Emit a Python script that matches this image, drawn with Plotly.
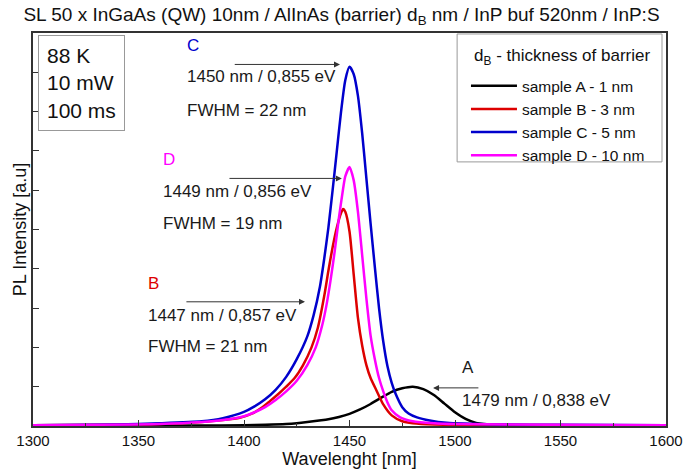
import plotly.graph_objects as go

# ---- data ----
wl_A = [1300, 1380, 1400, 1410, 1420, 1425, 1430, 1440, 1445, 1450, 1455, 1460, 1465, 1470,
        1475, 1480, 1485, 1490, 1495, 1500, 1505, 1510, 1520, 1540, 1600]
int_A = [0.0, 0.01, 0.02, 0.03, 0.05, 0.07, 0.10, 0.17, 0.23, 0.31, 0.42, 0.56, 0.72, 0.87,
         0.96, 1.00, 0.94, 0.79, 0.57, 0.35, 0.18, 0.08, 0.03, 0.01, 0.0]

wl_B = [1300, 1360, 1380, 1390, 1398, 1404, 1408, 1412, 1416, 1420, 1424, 1428, 1432, 1435,
        1438, 1440, 1442, 1444, 1446, 1447, 1448, 1450, 1452, 1454, 1456, 1458, 1460, 1463,
        1466, 1470, 1475, 1480, 1490, 1600]
int_B = [0.02, 0.05, 0.10, 0.15, 0.21, 0.32, 0.45, 0.62, 0.80, 1.00, 1.22, 1.55, 2.00, 2.50,
         3.30, 3.95, 4.55, 5.05, 5.42, 5.52, 5.45, 4.95, 3.85, 2.75, 2.05, 1.55, 1.22, 0.88,
         0.55, 0.27, 0.12, 0.07, 0.04, 0.02]

wl_C = [1300, 1340, 1360, 1380, 1390, 1400, 1405, 1410, 1415, 1420, 1425, 1430, 1433, 1436,
        1438, 1440, 1442, 1444, 1446, 1448, 1450, 1452, 1454, 1456, 1458, 1460, 1462, 1464,
        1466, 1468, 1470, 1472, 1475, 1478, 1482, 1488, 1496, 1520, 1550, 1600]
int_C = [0.02, 0.04, 0.07, 0.12, 0.20, 0.36, 0.50, 0.68, 0.92, 1.25, 1.70, 2.28, 2.82, 3.55,
         4.25, 5.05, 6.00, 7.00, 8.00, 8.80, 9.14, 8.95, 8.40, 7.45, 6.30, 5.15, 4.05, 3.00,
         2.15, 1.52, 1.10, 0.80, 0.48, 0.32, 0.22, 0.14, 0.08, 0.04, 0.03, 0.02]

wl_D = [1300, 1360, 1380, 1390, 1400, 1405, 1410, 1415, 1420, 1425, 1430, 1434, 1437, 1439,
        1441, 1443, 1445, 1447, 1448, 1450, 1452, 1454, 1456, 1458, 1460, 1462, 1464, 1466,
        1468, 1470, 1474, 1480, 1490, 1500, 1550, 1600]
int_D = [0.02, 0.05, 0.10, 0.15, 0.25, 0.35, 0.48, 0.66, 0.88, 1.15, 1.55, 2.00, 2.55, 3.05,
         3.70, 4.45, 5.30, 6.05, 6.35, 6.59, 6.25, 5.45, 4.35, 3.25, 2.30, 1.70, 1.22, 0.88,
         0.60, 0.40, 0.22, 0.12, 0.07, 0.05, 0.03, 0.02]

names = ["sample A - 1 nm", "sample B - 3 nm", "sample C - 5 nm", "sample D - 10 nm"]
colors = ["#000000", "#dd0000", "#0000cc", "#ff00ff"]
x_ticks = [1300, 1350, 1400, 1450, 1500, 1550, 1600]

series = [(wl_A, int_A), (wl_B, int_B), (wl_C, int_C), (wl_D, int_D)]

FONT = "Liberation Sans, Arial, sans-serif"

fig = go.Figure()
for i, ((xs, ys), nm, col) in enumerate(zip(series, names, colors)):
    fig.add_trace(go.Scatter(x=xs, y=ys, mode="lines", name=nm, legendgroup=str(i),
                             line=dict(color=col, width=2.5, shape="spline", smoothing=0.6)))

annotations = []
def txt(x, y, t, color="#1a1a1a", size=17):
    annotations.append(dict(x=x, y=y, xref="x", yref="y", text=t, showarrow=False,
                            xanchor="left", yanchor="middle",
                            font=dict(family=FONT, size=size, color=color)))
def arrow(x0, x1, y):
    annotations.append(dict(x=x1, y=y, ax=x0, ay=y, xref="x", yref="y", axref="x", ayref="y",
                            text="", showarrow=True, arrowhead=2, arrowsize=1.2,
                            arrowwidth=1, arrowcolor="#333333"))

# C
txt(1372.0, 9.69, "C", colors[2])
arrow(1394.9, 1445.5, 9.20)
txt(1372.0, 8.89, "1450 nm / 0,855 eV")
txt(1372.0, 8.04, "FWHM = 22 nm")
# D
txt(1360.8, 6.77, "D", colors[3])
arrow(1392.4, 1446.4, 6.30)
txt(1360.8, 5.96, "1449 nm / 0,856 eV")
txt(1360.8, 5.16, "FWHM = 19 nm")
# B
txt(1353.7, 3.63, "B", colors[1])
arrow(1372.0, 1428.9, 3.16)
txt(1353.7, 2.82, "1447 nm / 0,857 eV")
txt(1353.7, 2.02, "FWHM = 21 nm")
# A
txt(1502.5, 1.48, "A", "#1a1a1a")
arrow(1511.8, 1489.6, 0.97)
txt(1502.5, 0.66, "1479 nm / 0,838 eV")

# conditions box
annotations.append(dict(x=0.008, y=0.995, xref="paper", yref="paper", xanchor="left", yanchor="top",
                        text="88 K<br>10 mW<br>100 ms", showarrow=False, align="left",
                        bordercolor="#999999", borderwidth=1, borderpad=8, bgcolor="white",
                        font=dict(family=FONT, size=21, color="#111111")))

# legend title (legend frame drawn as a shape so the title gap matches)
annotations.append(dict(x=0.6935, y=0.939, xref="paper", yref="paper", xanchor="left", yanchor="middle",
                        text="d<sub>B</sub> - thickness of barrier", showarrow=False,
                        font=dict(family=FONT, size=17, color="#111111")))

fig.update_layout(
    width=683, height=475,
    margin=dict(l=33, r=17, t=33, b=49),
    paper_bgcolor="white", plot_bgcolor="white",
    title=dict(text="SL 50 x InGaAs (QW) 10nm / AlInAs (barrier) d<sub>B</sub> nm / InP buf 520nm / InP:S",
               x=0.5, xref="container", xanchor="center", y=0.97, yanchor="middle",
               font=dict(family=FONT, size=19, color="#111111")),
    font=dict(family=FONT, color="#111111"),
    annotations=annotations,
    shapes=[dict(type="rect", xref="paper", yref="paper", x0=0.670, x1=0.9937, y0=0.672, y1=0.9975,
                 line=dict(color="#999999", width=1), fillcolor="white", layer="below")],
    showlegend=True,
    legend=dict(x=0.684, xanchor="left", y=0.908, yanchor="top",
                borderwidth=0, bgcolor="rgba(0,0,0,0)",
                font=dict(family=FONT, size=15.5, color="#111111"),
                tracegroupgap=0, itemwidth=46),
)
fig.update_xaxes(range=[1300, 1600], tickvals=x_ticks, ticks="inside", ticklen=6, tickcolor="#333",
                 minor=dict(dtick=25, tick0=1300, ticks="inside", ticklen=3, tickcolor="#333"),
                 showgrid=False, zeroline=False, showline=True, linecolor="#333", linewidth=1.5,
                 mirror=True, automargin=False, tickfont=dict(family=FONT, size=15, color="#111111"),
                 title=dict(text="Wavelenght [nm]", standoff=2, font=dict(family=FONT, size=18, color="#111111")))
fig.update_yaxes(range=[0, 10], dtick=1, tick0=0, ticks="inside", ticklen=6, tickcolor="#333",
                 showticklabels=False, showgrid=False, zeroline=False, showline=True,
                 linecolor="#333", linewidth=1.5, mirror=True, automargin=False,
                 title=dict(text="PL Intensity [a.u]", standoff=0, font=dict(family=FONT, size=18, color="#111111")))

fig.write_html("out.html")
